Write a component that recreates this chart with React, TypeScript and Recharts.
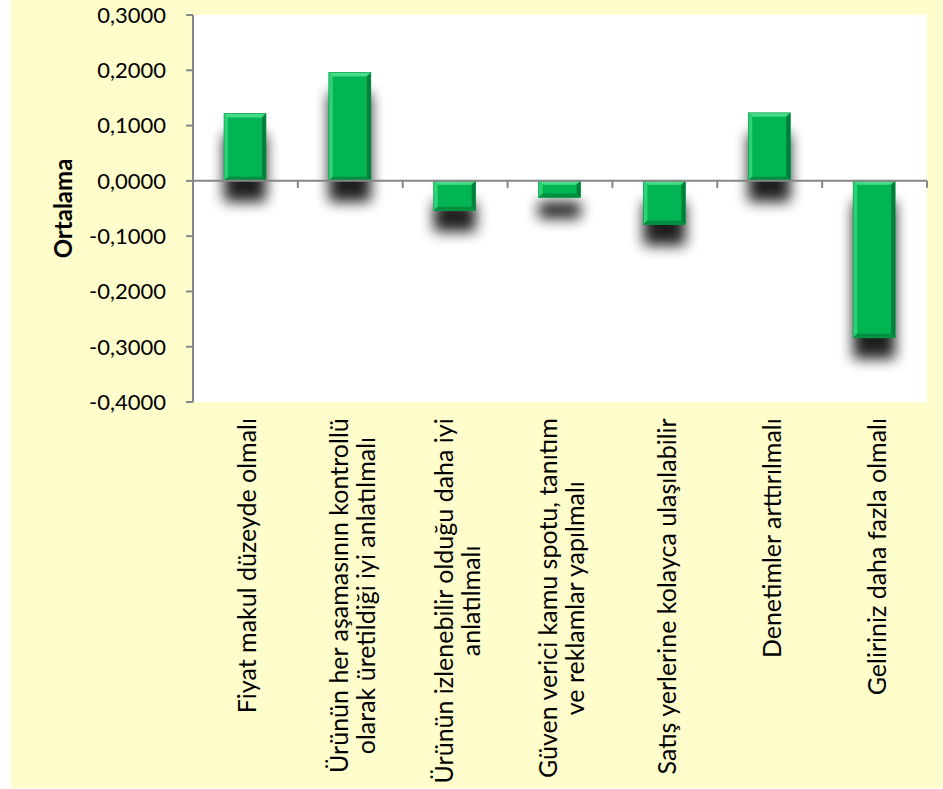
import React from 'react';
import { BarChart, Bar, XAxis, YAxis, CartesianGrid, ReferenceLine } from 'recharts';

// ---- data ----
const categories: string[][] = [
  ['Fiyat makul düzeyde olmalı'],
  ['Ürünün her aşamasının kontrollü', 'olarak üretildiği iyi anlatılmalı'],
  ['Ürünün izlenebilir olduğu daha iyi', 'anlatılmalı'],
  ['Güven verici kamu spotu, tanıtım', 've reklamlar yapılmalı'],
  ['Satış yerlerine kolayca ulaşılabilir'],
  ['Denetimler arttırılmalı'],
  ['Geliriniz daha fazla olmalı'],
];
const values: number[] = [0.122, 0.196, -0.054, -0.030, -0.079, 0.123, -0.284];
const yTicks: number[] = [0.3, 0.2, 0.1, 0, -0.1, -0.2, -0.3, -0.4];
const yTitle = 'Ortalama';

const data = values.map((v, i) => ({ x: i + 0.5, value: v }));
const xTicks = data.map((d) => d.x);
const boundaries = categories.map((_, i) => i + 1);

// ---- style ----
const FONT = 'Lato, "Open Sans", sans-serif';
const FS = 22;
const LFS = 25;
const AXIS = '#868686';

let ctx: CanvasRenderingContext2D | null = null;
function measure(text: string, font: string): number {
  if (!ctx) ctx = document.createElement('canvas').getContext('2d');
  if (!ctx) return text.length * LFS * 0.5;
  ctx.font = font;
  return ctx.measureText(text).width;
}

const fmt = (v: number) => v.toFixed(4).replace('.', ',');

const CategoryTick = (props: any) => {
  const { x, y, payload } = props;
  const idx = Math.floor(payload.value);
  const lines = categories[idx] || [];
  const maxW = Math.max(...lines.map((l) => measure(l, `${LFS}px Lato`)));
  const top = y + 16;
  const cy = top + maxW / 2;
  const n = lines.length;
  return (
    <g>
      {lines.map((l, i) => {
        const bx = x + 11 + (i - (n - 1) / 2) * 27;
        return (
          <text
            key={i}
            x={bx}
            y={cy}
            transform={`rotate(-90, ${bx}, ${cy})`}
            textAnchor="middle"
            fontSize={LFS}
            fontFamily={FONT}
            fill="#000"
          >
            {l}
          </text>
        );
      })}
    </g>
  );
};

const BevelBar = (props: any) => {
  const { x, y, width, height, index } = props;
  if (x == null || y == null) return null;
  const top = Math.min(y, y + height);
  const h = Math.abs(height);
  const w = width;
  const b = 4;
  const id = `bar-shadow-${index}`;
  return (
    <g>
      <defs>
        <filter id={id} x="-80%" y="-80%" width="260%" height="260%">
          <feGaussianBlur stdDeviation="7" />
        </filter>
      </defs>
      <rect x={x} y={top + 21} width={w} height={h} fill="#000" opacity={0.88} filter={`url(#${id})`} />
      <rect x={x} y={top} width={w} height={h} fill="#00B552" />
      <polygon points={`${x},${top} ${x + w},${top} ${x + w - b},${top + b} ${x + b},${top + b}`} fill="#45DC88" />
      <polygon points={`${x},${top} ${x + b},${top + b} ${x + b},${top + h - b} ${x},${top + h}`} fill="#2ED276" />
      <polygon points={`${x + w},${top} ${x + w},${top + h} ${x + w - b},${top + h - b} ${x + w - b},${top + b}`} fill="#007F3A" />
      <polygon points={`${x},${top + h} ${x + w},${top + h} ${x + w - b},${top + h - b} ${x + b},${top + h - b}`} fill="#008E40" />
      <rect x={x} y={top} width={w} height={h} fill="none" stroke="#009A45" strokeWidth={0.6} />
    </g>
  );
};

const YTitle = (props: any) => {
  const vb = props.viewBox || { x: 0, y: 0, width: 0, height: 0 };
  const cx = vb.x + 61;
  const cy = vb.y + vb.height / 2;
  return (
    <text
      x={cx}
      y={cy}
      transform={`rotate(-90, ${cx}, ${cy})`}
      textAnchor="middle"
      fontSize={24}
      fontWeight="bold"
      fontFamily={FONT}
      fill="#000"
    >
      {yTitle}
    </text>
  );
};

const TickMark = (p: any) => (
  <line x1={p.x1} y1={p.y1} x2={p.x1} y2={p.y1 + 7} stroke={AXIS} strokeWidth={2} />
);

export default function App() {
  return (
    <div style={{ position: 'absolute', left: 0, top: 0, width: 943, height: 789, background: '#FFFFFF' }}>
      <div style={{ position: 'absolute', left: 11, top: 0, width: 932, height: 788, background: '#FFFDCC' }}>
        <BarChart
          width={932}
          height={788}
          data={data}
          margin={{ top: 15, right: 16, bottom: 0, left: 0 }}
        >
          <CartesianGrid fill="#FFFFFF" horizontal={false} vertical={false} />
          <XAxis
            type="number"
            dataKey="x"
            domain={[0, 7]}
            ticks={xTicks}
            interval={0}
            axisLine={false}
            tickLine={false}
            tickSize={0}
            tickMargin={0}
            height={386}
            tick={<CategoryTick />}
          />
          <YAxis
            domain={[-0.4, 0.3]}
            ticks={yTicks}
            interval={0}
            width={182}
            tickFormatter={fmt}
            axisLine={{ stroke: AXIS, strokeWidth: 2 }}
            tickLine={{ stroke: AXIS, strokeWidth: 2 }}
            tickSize={7}
            tickMargin={20}
            tick={{ fill: '#000', fontSize: FS, fontFamily: FONT }}
            label={(p: any) => <YTitle {...p} />}
          />
          <Bar dataKey="value" barSize={42} shape={<BevelBar />} isAnimationActive={false} />
          <ReferenceLine y={0} stroke={AXIS} strokeWidth={2} />
          {boundaries.map((b) => (
            <ReferenceLine
              key={b}
              segment={[{ x: b, y: 0 }, { x: b, y: 0 }]}
              shape={<TickMark />}
              ifOverflow="visible"
            />
          ))}
        </BarChart>
      </div>
    </div>
  );
}
